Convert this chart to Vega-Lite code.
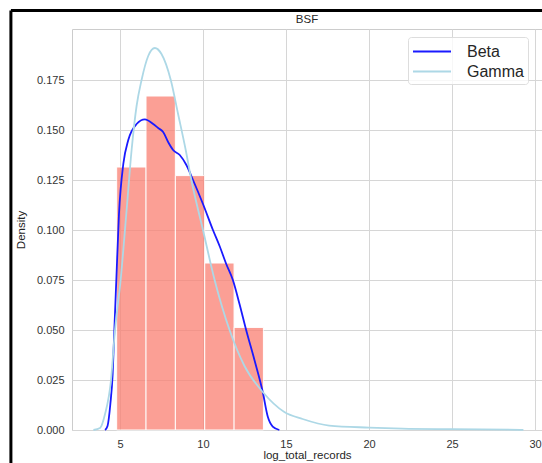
{
  "$schema": "https://vega.github.io/schema/vega-lite/v6.json",
  "autosize": {"type": "none"},
  "padding": {"left": 72, "top": 29, "right": 0, "bottom": 33},
  "width": 470,
  "height": 401,
  "background": "white",
  "title": {"text": "BSF", "fontSize": 11.5, "fontWeight": "normal", "font": "Liberation Sans", "color": "#262626", "offset": -16},
  "config": {
    "font": "Liberation Sans",
    "view": {"stroke": "#cccccc", "strokeWidth": 1},
    "axis": {
      "gridColor": "#d6d6d6",
      "gridWidth": 1,
      "domain": false,
      "ticks": false,
      "labelFontSize": 11,
      "labelColor": "#333333",
      "titleFontSize": 11.5,
      "titleFontWeight": "normal",
      "titleColor": "#262626",
      "labelPadding": 8
    }
  },
  "datasets": {
    "hist": [
      {"bin_start": 4.80, "bin_end": 6.568, "density": 0.1315},
      {"bin_start": 6.568, "bin_end": 8.336, "density": 0.1670},
      {"bin_start": 8.336, "bin_end": 10.104, "density": 0.1272},
      {"bin_start": 10.104, "bin_end": 11.872, "density": 0.0835},
      {"bin_start": 11.872, "bin_end": 13.64, "density": 0.0513}
    ],
    "curves": [
      {"series": "Beta", "x": 4.1, "density": 0.0},
      {"series": "Beta", "x": 4.25, "density": 0.002},
      {"series": "Beta", "x": 4.42, "density": 0.013},
      {"series": "Beta", "x": 4.56, "density": 0.028},
      {"series": "Beta", "x": 4.66, "density": 0.05},
      {"series": "Beta", "x": 4.78, "density": 0.075},
      {"series": "Beta", "x": 4.94, "density": 0.108},
      {"series": "Beta", "x": 5.2, "density": 0.133},
      {"series": "Beta", "x": 5.5, "density": 0.145},
      {"series": "Beta", "x": 6.0, "density": 0.153},
      {"series": "Beta", "x": 6.5, "density": 0.1553},
      {"series": "Beta", "x": 7.0, "density": 0.153},
      {"series": "Beta", "x": 7.3, "density": 0.151},
      {"series": "Beta", "x": 7.6, "density": 0.149},
      {"series": "Beta", "x": 7.9, "density": 0.144},
      {"series": "Beta", "x": 8.2, "density": 0.140},
      {"series": "Beta", "x": 8.6, "density": 0.1375},
      {"series": "Beta", "x": 9.0, "density": 0.1325},
      {"series": "Beta", "x": 9.4, "density": 0.125},
      {"series": "Beta", "x": 10.0, "density": 0.113},
      {"series": "Beta", "x": 10.6, "density": 0.100},
      {"series": "Beta", "x": 11.0, "density": 0.092},
      {"series": "Beta", "x": 11.4, "density": 0.083},
      {"series": "Beta", "x": 11.8, "density": 0.075},
      {"series": "Beta", "x": 12.2, "density": 0.063},
      {"series": "Beta", "x": 12.6, "density": 0.050},
      {"series": "Beta", "x": 13.1, "density": 0.035},
      {"series": "Beta", "x": 13.6, "density": 0.019},
      {"series": "Beta", "x": 13.9, "density": 0.0067},
      {"series": "Beta", "x": 14.2, "density": 0.0017},
      {"series": "Beta", "x": 14.6, "density": 0.0},
      {"series": "Gamma", "x": 3.4, "density": 0.0},
      {"series": "Gamma", "x": 3.8, "density": 0.001},
      {"series": "Gamma", "x": 4.1, "density": 0.008},
      {"series": "Gamma", "x": 4.46, "density": 0.025},
      {"series": "Gamma", "x": 4.7, "density": 0.05},
      {"series": "Gamma", "x": 5.04, "density": 0.075},
      {"series": "Gamma", "x": 5.4, "density": 0.11},
      {"series": "Gamma", "x": 5.7, "density": 0.14},
      {"series": "Gamma", "x": 6.0, "density": 0.162},
      {"series": "Gamma", "x": 6.3, "density": 0.175},
      {"series": "Gamma", "x": 6.7, "density": 0.187},
      {"series": "Gamma", "x": 7.1, "density": 0.191},
      {"series": "Gamma", "x": 7.5, "density": 0.188},
      {"series": "Gamma", "x": 8.06, "density": 0.175},
      {"series": "Gamma", "x": 8.5, "density": 0.158},
      {"series": "Gamma", "x": 8.96, "density": 0.14},
      {"series": "Gamma", "x": 9.3, "density": 0.125},
      {"series": "Gamma", "x": 10.0, "density": 0.1},
      {"series": "Gamma", "x": 10.7, "density": 0.075},
      {"series": "Gamma", "x": 11.6, "density": 0.05},
      {"series": "Gamma", "x": 12.5, "density": 0.032},
      {"series": "Gamma", "x": 13.6, "density": 0.019},
      {"series": "Gamma", "x": 14.9, "density": 0.009},
      {"series": "Gamma", "x": 16.0, "density": 0.0055},
      {"series": "Gamma", "x": 17.6, "density": 0.0022},
      {"series": "Gamma", "x": 20.0, "density": 0.0012},
      {"series": "Gamma", "x": 22.0, "density": 0.0007},
      {"series": "Gamma", "x": 25.0, "density": 0.0004},
      {"series": "Gamma", "x": 29.3, "density": 0.0001}
    ]
  },
  "layer": [
    {
      "data": {"name": "hist"},
      "mark": {"type": "rect", "color": "#FA8072", "opacity": 0.75, "stroke": "white", "strokeWidth": 1},
      "encoding": {
        "x": {
          "field": "bin_start", "type": "quantitative",
          "scale": {"domain": [2.11, 30.42], "nice": false, "zero": false},
          "axis": {"values": [5, 10, 15, 20, 25, 30], "title": "log_total_records", "titlePadding": 0}
        },
        "x2": {"field": "bin_end"},
        "y": {
          "field": "density", "type": "quantitative",
          "scale": {"domain": [0, 0.2005], "nice": false},
          "axis": {"values": [0, 0.025, 0.05, 0.075, 0.1, 0.125, 0.15, 0.175], "format": ".3f", "title": "Density", "titlePadding": 10}
        },
        "y2": {"datum": 0}
      }
    },
    {
      "data": {"name": "curves"},
      "mark": {"type": "line", "strokeWidth": 1.8, "interpolate": "monotone"},
      "encoding": {
        "x": {"field": "x", "type": "quantitative"},
        "y": {"field": "density", "type": "quantitative"},
        "color": {
          "field": "series", "type": "nominal",
          "scale": {"domain": ["Beta", "Gamma"], "range": ["#1a1aff", "#add8e6"]},
          "legend": {
            "title": null, "orient": "none", "legendX": 336, "legendY": 8,
            "symbolType": "M-1,0H3", "symbolSize": 361, "symbolStrokeWidth": 2,
            "labelFontSize": 16, "labelColor": "#262626", "labelOffset": 34,
            "padding": 4, "rowPadding": 1,
            "fillColor": "rgba(255,255,255,0.8)", "strokeColor": "#dddddd", "cornerRadius": 3
          }
        }
      }
    },
    {
      "data": {"values": [{}]},
      "mark": {"type": "rule", "color": "black", "strokeWidth": 3},
      "encoding": {"x": {"datum": -1.57}, "x2": {"datum": 31}, "y": {"datum": 0.20975}}
    },
    {
      "data": {"values": [{}]},
      "mark": {"type": "rule", "color": "black", "strokeWidth": 3},
      "encoding": {"x": {"datum": -1.57}, "y": {"datum": 0.20975}, "y2": {"datum": -0.02}}
    }
  ]
}
